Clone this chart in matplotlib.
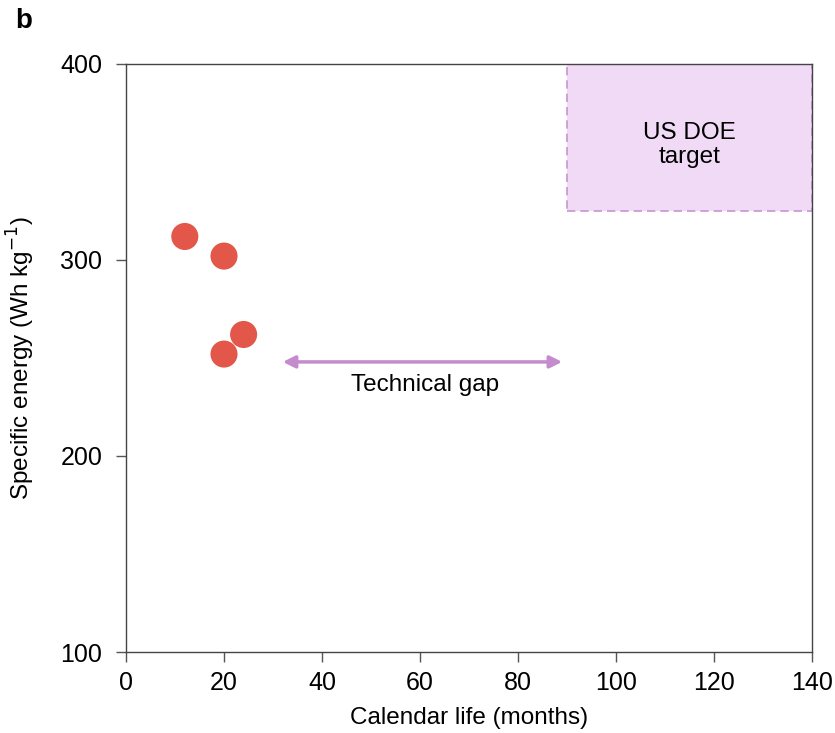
import matplotlib.pyplot as plt
from matplotlib.patches import Rectangle

plt.rcParams["font.family"] = ["Liberation Sans", "DejaVu Sans"]

# calendar life (months) vs specific energy (Wh/kg)
life = [12, 20, 24, 20]
energy = [312, 302, 262, 252]

target_life = [90, 140]
target_energy = [325, 400]

gap_life = [32, 89]
gap_energy = 248

fig = plt.figure(figsize=(8.35, 7.33), dpi=100)
ax = fig.add_axes([0.1509, 0.1105, 0.8216, 0.8022])

ax.add_patch(Rectangle((target_life[0], target_energy[0]),
                       target_life[1] - target_life[0],
                       target_energy[1] - target_energy[0],
                       facecolor="#f1daf6", edgecolor="#c994d2",
                       linestyle=(0, (5, 3)), linewidth=1.2, zorder=1))
ax.text(sum(target_life) / 2, 358.5, "US DOE\ntarget", ha="center", va="center",
        fontsize=17.5, linespacing=1.12)

ax.scatter(life, energy, s=380, color="#e3574a", edgecolors="none", zorder=3)

ax.annotate("", xy=(gap_life[1], gap_energy), xytext=(gap_life[0], gap_energy),
            arrowprops=dict(arrowstyle="<|-|>", color="#c48ccc", lw=2.5,
                            mutation_scale=18, shrinkA=0, shrinkB=0))
ax.text(sum(gap_life) / 2 + 0.5, 236, "Technical gap", ha="center", va="center",
        fontsize=17.5)

ax.set_xlim(0, 140)
ax.set_ylim(100, 400)
ax.set_xticks(range(0, 141, 20))
ax.set_yticks([100, 200, 300, 400])
ax.tick_params(labelsize=18, length=7, width=1, color="#555555",
               direction="out", pad=7)
ax.tick_params(axis="y", pad=10)
for s in ax.spines.values():
    s.set_color("#444444")
    s.set_linewidth(1)

ax.set_xlabel("Calendar life (months)", fontsize=17.5, labelpad=8)
ax.set_ylabel("Specific energy (Wh kg$^{-1}$)", fontsize=17.5, labelpad=17)

fig.text(0.018, 0.972, "b", fontsize=20, fontweight="bold", va="center")

fig.savefig("out.png", dpi=100)
